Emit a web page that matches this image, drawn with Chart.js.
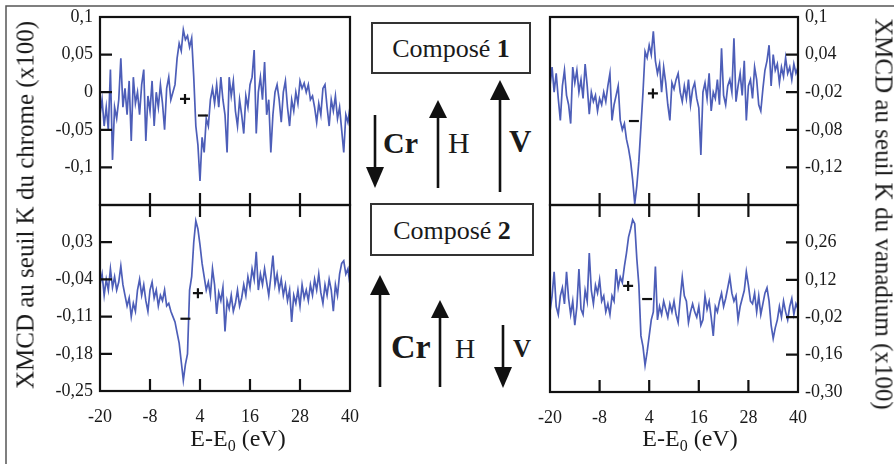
<!DOCTYPE html>
<html><head><meta charset="utf-8">
<script src="https://cdn.jsdelivr.net/npm/chart.js@4.4.1/dist/chart.umd.min.js"></script>
<style>
html,body{margin:0;padding:0;background:#fff;}
#wrap{position:relative;width:894px;height:464px;overflow:hidden;background:#fff;font-family:'Liberation Serif','Times New Roman',serif;color:#1a1a1a;}
canvas{position:absolute;}
svg{position:absolute;left:0;top:0;}
.t{position:absolute;white-space:nowrap;font-size:24px;line-height:1;}
.yt{font-size:25px;}
.t sub{font-size:16px;vertical-align:-5px;line-height:0;}
</style></head><body>
<div id="wrap">
<svg width="894" height="464" font-family="Liberation Serif, Times New Roman, serif">
  <rect x="6" y="6" width="900" height="500" fill="none" stroke="#555" stroke-width="1.5"/>
  <rect x="372" y="23" width="158" height="50" fill="none" stroke="#333" stroke-width="2"/>
  <text x="451" y="57" font-size="26" text-anchor="middle" fill="#1a1a1a">Composé <tspan font-weight="bold">1</tspan></text>
  <rect x="371" y="204" width="162" height="51" fill="none" stroke="#333" stroke-width="2"/>
  <text x="452" y="239" font-size="26" text-anchor="middle" fill="#1a1a1a">Composé <tspan font-weight="bold">2</tspan></text>
  <g stroke="#111" stroke-width="2.6" fill="#111">
    <line x1="375" y1="115" x2="375" y2="170"/><polygon stroke="none" points="366,167 384,167 375,188"/>
    <line x1="438" y1="188" x2="438" y2="115"/><polygon stroke="none" points="429,118 447,118 438,100"/>
    <line x1="500" y1="192" x2="500" y2="98"/><polygon stroke="none" points="490,100 510,100 500,80"/>
    <line x1="380" y1="387" x2="380" y2="292"/><polygon stroke="none" points="370,295 390,295 380,275"/>
    <line x1="440" y1="387" x2="440" y2="316"/><polygon stroke="none" points="431,318 449,318 440,300"/>
    <line x1="503" y1="325" x2="503" y2="370"/><polygon stroke="none" points="494,367 512,367 503,388"/>
  </g>
  <g fill="#1a1a1a">
    <text x="383" y="153" font-size="30" font-weight="bold">Cr</text>
    <text x="448" y="153" font-size="30">H</text>
    <text x="509" y="152" font-size="31" font-weight="bold">V</text>
    <text x="391" y="358" font-size="34" font-weight="bold">Cr</text>
    <text x="455" y="358" font-size="28">H</text>
    <text x="513" y="357" font-size="25" font-weight="bold">V</text>
  </g>
</svg>
<canvas id="c1" width="370" height="215" style="left:0;top:0;width:370px;height:215px"></canvas>
<canvas id="c2" width="370" height="274" style="left:0;top:190px;width:370px;height:274px"></canvas>
<canvas id="c3" width="394" height="215" style="left:500px;top:0;width:394px;height:215px"></canvas>
<canvas id="c4" width="394" height="274" style="left:500px;top:190px;width:394px;height:274px"></canvas>
<div class="t yt" style="left:25px;top:205px;transform:translate(-50%,-50%) rotate(-90deg)">XMCD au seuil K du chrome (x100)</div>
<div class="t yt" style="left:884px;top:214px;transform:translate(-50%,-50%) rotate(90deg)">XMCD au seuil K du vanadium (x100)</div>
<div class="t" style="left:238px;top:438px;transform:translate(-50%,-50%)">E-E<sub>0</sub> (eV)</div>
<div class="t" style="left:690px;top:438px;transform:translate(-50%,-50%)">E-E<sub>0</sub> (eV)</div>
</div>
<script>
// ---- data ----
const energy = [
-20,-19.5,-19,-18.5,-18,-17.5,-17,-16.5,-16,-15.5,
-15,-14.5,-14,-13.5,-13,-12.5,-12,-11.5,-11,-10.5,
-10,-9.5,-9,-8.5,-8,-7.5,-7,-6.5,-6,-5.5,
-5,-4.5,-4,-3.5,-3,-2.5,-2,-1.5,-1,-0.5,
0,0.5,1,1.5,2,2.5,3,3.5,4,4.5,
5,5.5,6,6.5,7,7.5,8,8.5,9,9.5,
10,10.5,11,11.5,12,12.5,13,13.5,14,14.5,
15,15.5,16,16.5,17,17.5,18,18.5,19,19.5,
20,20.5,21,21.5,22,22.5,23,23.5,24,24.5,
25,25.5,26,26.5,27,27.5,28,28.5,29,29.5,
30,30.5,31,31.5,32,32.5,33,33.5,34,34.5,
35,35.5,36,36.5,37,37.5,38,38.5,39,39.5,
40];
// Composé 1, seuil K du chrome
const cr1 = [
-0.03,-0.01,-0.045,-0.02,-0.05,0.03,-0.09,-0.02,-0.035,-0.01,
0.045,-0.02,0.005,-0.03,0.015,-0.065,0.02,-0.015,0.0,-0.03,
0.01,0.03,-0.065,-0.005,-0.025,0.015,-0.045,0.0,-0.02,0.01,
-0.015,-0.05,0.005,0.02,-0.01,0.0,0.01,0.045,0.065,0.055,
0.083,0.07,0.075,0.06,0.072,0.02,-0.045,-0.07,-0.118,-0.06,
-0.08,-0.035,-0.045,-0.01,0.005,-0.015,0.01,-0.02,0.02,-0.01,
-0.03,-0.08,0.02,-0.005,0.015,-0.025,-0.045,-0.01,-0.03,-0.055,
-0.005,-0.02,0.01,0.02,0.056,-0.055,0.0,0.02,-0.01,0.04,
-0.03,-0.01,-0.08,-0.03,0.0,0.01,-0.01,-0.04,0.0,0.015,
-0.02,-0.045,-0.01,-0.025,0.0,-0.015,0.015,0.005,0.012,0.0,
0.01,-0.01,-0.005,-0.02,-0.04,-0.015,-0.03,0.005,0.01,-0.02,
-0.045,-0.01,-0.025,-0.005,-0.035,-0.02,-0.05,-0.08,-0.03,-0.04,
-0.02];
// Composé 2, seuil K du chrome
const cr2 = [
-0.05,-0.03,-0.07,-0.04,-0.06,-0.02,-0.055,-0.035,-0.06,-0.045,
-0.015,-0.05,-0.07,-0.09,-0.075,-0.11,-0.085,-0.1,-0.06,-0.04,
-0.07,-0.05,-0.08,-0.1,-0.06,-0.045,-0.075,-0.06,-0.09,-0.07,
-0.08,-0.06,-0.09,-0.085,-0.1,-0.11,-0.12,-0.14,-0.16,-0.195,
-0.23,-0.2,-0.18,-0.06,-0.035,0.03,0.07,0.055,0.025,-0.01,
-0.035,-0.06,-0.045,-0.07,-0.02,-0.05,-0.105,-0.065,-0.08,-0.055,
-0.138,-0.08,-0.095,-0.07,-0.1,-0.085,-0.06,-0.09,-0.075,-0.05,
-0.07,-0.035,-0.055,-0.02,-0.04,0.012,-0.06,-0.03,-0.05,-0.02,
-0.045,-0.07,-0.035,0.005,-0.05,-0.03,-0.06,-0.04,-0.07,-0.05,
-0.08,-0.06,-0.12,-0.07,-0.085,-0.06,-0.09,-0.05,-0.075,-0.06,
-0.08,-0.05,-0.07,-0.04,-0.06,-0.03,-0.065,-0.085,-0.05,-0.07,
-0.04,-0.06,-0.1,-0.05,-0.07,-0.03,-0.01,-0.005,-0.03,-0.02,
-0.05];
// Composé 1, seuil K du vanadium
const v1 = [
-0.01,0.02,-0.02,0.01,-0.03,-0.065,-0.01,0.015,-0.025,-0.04,
-0.07,0.02,-0.005,0.015,-0.02,0.0,-0.03,0.025,-0.01,-0.055,
-0.02,-0.035,-0.025,-0.05,-0.03,-0.04,-0.02,-0.035,-0.01,0.01,
-0.065,-0.04,-0.025,-0.01,-0.065,-0.08,-0.07,-0.095,-0.11,-0.13,
-0.16,-0.198,-0.17,-0.13,-0.075,-0.02,0.045,0.035,0.055,0.04,
0.077,0.03,0.01,0.025,-0.02,0.02,-0.005,-0.04,-0.065,-0.005,
-0.015,0.0,0.01,-0.02,-0.035,-0.01,-0.03,0.0,-0.04,-0.015,
-0.005,-0.03,-0.045,-0.12,-0.02,-0.005,-0.03,0.01,-0.05,-0.02,
-0.03,0.0,-0.04,0.05,-0.025,-0.04,-0.01,0.0,-0.02,0.066,
-0.035,-0.01,0.01,-0.025,0.03,-0.065,-0.01,0.0,-0.03,0.02,
0.0,-0.04,-0.05,-0.015,0.015,0.03,0.055,-0.01,0.04,0.015,
0.025,-0.005,0.02,0.005,0.035,0.01,0.02,0.0,0.025,0.01,
0.02];
// Composé 2, seuil K du vanadium
const v2 = [
0.0,0.06,0.15,0.02,-0.01,0.06,0.09,0.03,0.15,0.05,
-0.01,0.04,-0.05,0.02,0.16,0.01,-0.01,0.08,0.04,0.22,
0.08,0.03,0.1,0.07,0.12,0.04,0.06,0.0,0.03,-0.01,
0.06,0.04,0.16,0.09,0.13,0.11,0.17,0.22,0.28,0.31,
0.345,0.33,0.2,0.1,-0.09,-0.13,-0.2,-0.15,-0.09,-0.03,
0.0,0.17,-0.03,0.02,-0.01,0.04,0.01,-0.02,0.03,0.0,
0.04,-0.01,-0.04,0.05,0.13,0.06,0.04,-0.04,0.0,0.03,
0.0,-0.02,0.02,-0.05,-0.03,0.06,0.01,0.04,-0.02,-0.09,
0.02,0.0,0.04,0.07,0.02,0.05,0.09,0.13,0.07,0.04,
0.06,-0.03,0.02,0.05,0.08,0.15,0.1,0.04,0.03,0.07,
0.0,0.06,-0.01,0.03,0.07,0.09,0.04,-0.05,-0.1,-0.06,
-0.03,0.02,-0.02,0.04,0.0,-0.03,0.02,0.05,-0.01,0.03,
0.01];
// "+" and "-" markers [E, value]
const cr1Plus = [0.4, -0.009], cr1Minus = [4.7, -0.031];
const cr2Plus = [3.5, -0.066], cr2Minus = [0.5, -0.114];
const v1Plus = [4.9, -0.022], v1Minus = [0.3, -0.066];
const v2Plus = [-1.1, 0.097], v2Minus = [3.5, 0.048];
// ticks
const xTicks = [-20, -8, 4, 16, 28, 40];
const xLabels = ['-20', '-8', '4', '16', '28', '40'];
const cr1Ticks = [0.1, 0.05, 0, -0.05, -0.1];
const cr1Labels = ['0,1', '0,05', '0', '-0,05', '-0,1'];
const cr2Ticks = [0.03, -0.04, -0.11, -0.18, -0.25];
const cr2Labels = ['0,03', '-0,04', '-0,11', '-0,18', '-0,25'];
const v1Ticks = [0.1, 0.04, -0.02, -0.08, -0.14];
const v1Labels = ['0,1', '0,04', '-0,02', '-0,08', '-0,12'];
const v2Ticks = [0.26, 0.12, -0.02, -0.16, -0.30];
const v2Labels = ['0,26', '0,12', '-0,02', '-0,16', '-0,30'];

// ---- drawing ----
const FONT = {family: "'Liberation Serif','Times New Roman',serif", size: 18};
function frameTicksPlugin(cfg) {
  return {
    id: 'frameTicks',
    afterDraw(chart) {
      const {ctx, chartArea: a} = chart;
      const xs = chart.scales.x, ys = chart.scales.y;
      ctx.save();
      ctx.strokeStyle = '#111';
      ctx.lineWidth = 2.2;
      ctx.strokeRect(a.left, a.top, a.right - a.left, a.bottom - a.top);
      const L = 12;
      ctx.beginPath();
      xTicks.forEach(v => {
        const px = xs.getPixelForValue(v);
        if (!(px > a.left + 1 && px < a.right - 1)) return;
        if (cfg.top) { ctx.moveTo(px, a.top); ctx.lineTo(px, a.top + L); }
        if (cfg.bottom) { ctx.moveTo(px, a.bottom); ctx.lineTo(px, a.bottom - L); }
      });
      cfg.yTicks.forEach(v => {
        const py = ys.getPixelForValue(v);
        if (!(py > a.top + 1 && py < a.bottom - 1)) return;
        if (cfg.side === 'left') { ctx.moveTo(a.left, py); ctx.lineTo(a.left + L, py); }
        else { ctx.moveTo(a.right, py); ctx.lineTo(a.right - L, py); }
      });
      ctx.stroke();
      ctx.restore();
    }
  };
}
function noPad(s) { s.paddingTop = 0; s.paddingBottom = 0; s.paddingLeft = 0; s.paddingRight = 0; }

function makeChart(id, values, plus, minus, yMin, yMax, yTicks, yLabels, side, yWidth, showX, xHeight, padding, topTicks) {
  const pts = energy.map((e, i) => ({x: e, y: values[i]}));
  new Chart(document.getElementById(id), {
    type: 'line',
    data: {
      datasets: [
        {type: 'scatter', data: [{x: plus[0], y: plus[1]}], pointStyle: 'cross', pointRadius: 5, borderColor: '#111', backgroundColor: '#111', borderWidth: 2.2},
        {type: 'scatter', data: [{x: minus[0], y: minus[1]}], pointStyle: 'line', pointRadius: 5, borderColor: '#111', borderWidth: 2.2},
        {type: 'line', data: pts, borderColor: '#4d5eb8', borderWidth: 1.7, pointRadius: 0, tension: 0, fill: false}
      ]
    },
    options: {
      responsive: false, animation: false, devicePixelRatio: 1,
      layout: {padding: padding},
      plugins: {legend: {display: false}, tooltip: {enabled: false}},
      scales: {
        x: {
          type: 'linear', min: -20, max: 40, display: showX,
          grid: {display: false, drawTicks: false}, border: {display: false},
          afterBuildTicks: s => { s.ticks = xTicks.map(v => ({value: v})); },
          afterFit: s => { s.height = xHeight; noPad(s); },
          ticks: {autoSkip: false, maxRotation: 0, padding: 15, color: '#1a1a1a', font: FONT,
                  callback: v => xLabels[xTicks.indexOf(v)]}
        },
        y: {
          type: 'linear', position: side, min: yMin, max: yMax,
          grid: {display: false, drawTicks: false}, border: {display: false},
          afterBuildTicks: s => { s.ticks = yTicks.map(v => ({value: v})); },
          afterFit: s => { s.width = yWidth; noPad(s); },
          ticks: {autoSkip: false, padding: 7, color: '#1a1a1a', font: FONT,
                  callback: v => yLabels[yTicks.indexOf(v)]}
        }
      }
    },
    plugins: [frameTicksPlugin({yTicks: yTicks, side: side, top: topTicks, bottom: true})]
  });
}

makeChart('c1', cr1, cr1Plus, cr1Minus, -0.15, 0.1, cr1Ticks, cr1Labels, 'left', 100, false, 0, {left: 0, top: 17, right: 20, bottom: 10}, false);
makeChart('c2', cr2, cr2Plus, cr2Minus, -0.25, 0.1, cr2Ticks, cr2Labels, 'left', 100, true, 73, {left: 0, top: 15, right: 20, bottom: 0}, true);
makeChart('c3', v1, v1Plus, v1Minus, -0.2, 0.1, v1Ticks, v1Labels, 'right', 96, false, 0, {left: 50, top: 17, right: 0, bottom: 10}, false);
makeChart('c4', v2, v2Plus, v2Minus, -0.3, 0.4, v2Ticks, v2Labels, 'right', 96, true, 72, {left: 50, top: 15, right: 0, bottom: 0}, true);
</script>
</body></html>
